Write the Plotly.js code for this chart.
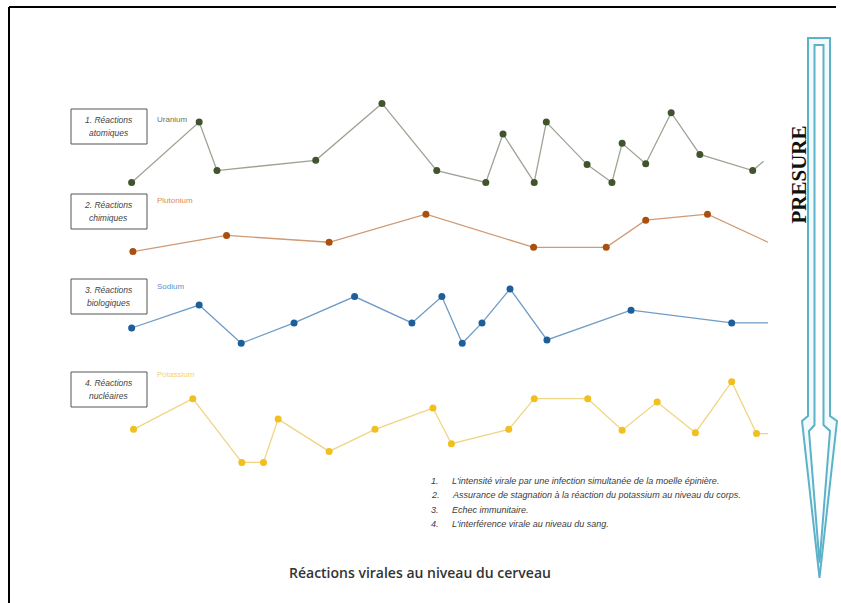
<!DOCTYPE html>
<html>
<head>
<meta charset="utf-8">
<script src="https://cdn.plot.ly/plotly-3.0.1.min.js"></script>
<style>html,body{margin:0;padding:0;background:#fff;}#chart{width:841px;height:603px;}</style>
</head>
<body>
<div id="chart"></div>
<script>
// ---- data (x: relative position 0-100, y: level 0-10 within each band) ----
const seriesNames = ["Uranium", "Plutonium", "Sodium", "Potassium"];
const boxLabels = [["1. Réactions", "atomiques"], ["2. Réactions", "chimiques"], ["3. Réactions", "biologiques"], ["4. Réactions", "nucléaires"]];

const xUranium = [0.1, 10.7, 13.5, 29.0, 39.4, 48.0, 55.7, 58.4, 63.3, 65.2, 71.6, 75.5, 77.1, 80.8, 84.8, 89.3, 97.6, 99.3];
const yUranium = [0.3, 7.4, 1.7, 2.9, 9.6, 1.7, 0.3, 6.0, 0.3, 7.4, 2.4, 0.3, 4.9, 2.5, 8.5, 3.6, 1.7, 2.8];

const xPlutonium = [0.3, 15.0, 31.1, 46.3, 63.2, 74.6, 80.8, 90.5, 100];
const yPlutonium = [0.4, 2.3, 1.5, 4.8, 0.9, 0.9, 4.1, 4.8, 1.5];

const xSodium = [0.1, 10.7, 17.3, 25.6, 35.1, 44.1, 48.8, 52.0, 55.1, 59.5, 65.3, 78.5, 94.3, 100];
const ySodium = [2.0, 4.7, 0.2, 2.6, 5.7, 2.6, 5.7, 0.2, 2.6, 6.6, 0.6, 4.1, 2.6, 2.6];

const xPotassium = [0.4, 9.7, 17.4, 20.8, 23.1, 31.1, 38.3, 47.4, 50.3, 59.3, 63.3, 71.7, 77.1, 82.6, 88.6, 94.3, 98.2, 100];
const yPotassium = [4.2, 7.8, 0.3, 0.3, 5.4, 1.6, 4.2, 6.7, 2.5, 4.2, 7.8, 7.8, 4.1, 7.4, 3.8, 9.8, 3.7, 3.7];

const notes = [
  "L'intensité virale par une infection simultanée de la moelle épinière.",
  "Assurance de stagnation à la réaction du potassium au niveau du corps.",
  "Echec immunitaire.",
  "L'interférence virale au niveau du sang."
];
const chartTitle = "Réactions virales au niveau du cerveau";
const arrowLabel = "PRESURE";

// ---- styling / layout ----
const W = 841, H = 603;
const px = x => x / W;
const py = y => 1 - y / H;

const xs = [xUranium, xPlutonium, xSodium, xPotassium];
const ys = [yUranium, yPlutonium, ySodium, yPotassium];
const lineColors = ["#9ea394", "#cf9a74", "#6f9cc6", "#f0d584"];
const markerColors = ["#40552e", "#a9500f", "#1d5e9b", "#f1bf1e"];
const labelColors = ["#6b7752", "#dc8a55", "#5a93cc", "#f3d36c"];
const bandBottoms = [185, 255, 345, 465];   // pixel bottom of each band
const labelY = [120, 201, 287, 375];
const boxTop = [109, 194, 279, 372];
const unitPx = 8.5;

const traces = [];
const layout = {
  width: W, height: H,
  margin: {l: 0, r: 0, t: 0, b: 0},
  paper_bgcolor: "#fff", plot_bgcolor: "rgba(0,0,0,0)",
  showlegend: false,
  xaxis: {range: [-2, 102], domain: [px(131 - 2 * 6.37), px(768 + 2 * 6.37)], visible: false, fixedrange: true},
  shapes: [], annotations: []
};

function note(x, y, text, font, xanchor) {
  layout.annotations.push({xref: "paper", yref: "paper", x: px(x), y: py(y),
    xanchor: xanchor || "center", yanchor: "middle", text: text, showarrow: false,
    align: "center", font: font});
}

for (let i = 0; i < 4; i++) {
  const ax = i === 0 ? "y" : "y" + (i + 1);
  const axName = i === 0 ? "yaxis" : "yaxis" + (i + 1);
  const B = bandBottoms[i];
  layout[axName] = {
    range: [-1, 11],
    domain: [py(B + unitPx), py(B - 11 * unitPx)],
    visible: false, fixedrange: true
  };
  traces.push({
    x: xs[i], y: ys[i], yaxis: ax, type: "scatter", mode: "lines",
    line: {color: lineColors[i], width: 1.3}, hoverinfo: "skip", cliponaxis: false
  });
  traces.push({
    x: xs[i].slice(0, -1), y: ys[i].slice(0, -1), yaxis: ax, type: "scatter", mode: "markers",
    marker: {color: markerColors[i], size: 7, line: {width: 0}}, hoverinfo: "skip", cliponaxis: false
  });
  // label box
  layout.shapes.push({type: "rect", xref: "paper", yref: "paper",
    x0: px(71), x1: px(147), y0: py(boxTop[i]), y1: py(boxTop[i] + 35),
    line: {color: "#555", width: 1}, fillcolor: "rgba(0,0,0,0)"});
  const bf = {family: "Liberation Sans", size: 8.5, color: "#444"};
  note(108.5, boxTop[i] + 11, "<i>" + boxLabels[i][0] + "</i>", bf);
  note(108.5, boxTop[i] + 24, "<i>" + boxLabels[i][1] + "</i>", bf);
  note(155, labelY[i], seriesNames[i], {family: "Liberation Sans", size: 8, color: labelColors[i]}, "left");
}

// notes
for (let k = 0; k < notes.length; k++) {
  const yy = 481 + k * 14.3;
  const nf = {family: "Liberation Sans", size: 9, color: "#3a3a3a"};
  note(429, yy, "<i>" + (k + 1) + ".</i>", nf, "left");
  note(450, yy, "<i>" + notes[k] + "</i>", nf, "left");
}

// title
note(420, 572, chartTitle, {family: "Open Sans", size: 14, color: "#333", weight: 600});

// PRESURE label
layout.annotations.push({xref: "paper", yref: "paper", x: px(798.5), y: py(175),
  xanchor: "center", yanchor: "middle",
  text: "<b>" + arrowLabel + "</b>", textangle: -90, showarrow: false,
  font: {family: "Liberation Serif", size: 21, color: "#111"}});

// arrow outlines
function pathOf(pts) {
  return "M " + pts.map(p => px(p[0]).toFixed(5) + "," + py(p[1]).toFixed(5)).join(" L ") + " Z";
}
const outerArrow = [[808, 38], [830, 38], [830, 416], [837, 421], [819.5, 578], [802, 421], [808, 416]];
const innerArrow = [[814.5, 45], [823.5, 45], [823.5, 425], [830, 431], [819.5, 563], [809, 431], [814.5, 425]];
layout.shapes.push({type: "path", xref: "paper", yref: "paper", path: pathOf(outerArrow),
  line: {color: "#5cb2c9", width: 2}, fillcolor: "rgba(230,245,250,0.5)"});
layout.shapes.push({type: "path", xref: "paper", yref: "paper", path: pathOf(innerArrow),
  line: {color: "#5cb2c9", width: 2}, fillcolor: "#fff"});

// frame (top and left)
layout.shapes.push({type: "line", xref: "paper", yref: "paper", x0: px(9), x1: px(836), y0: py(7), y1: py(7), line: {color: "#000", width: 2}});
layout.shapes.push({type: "line", xref: "paper", yref: "paper", x0: px(9), x1: px(9), y0: py(7), y1: py(603), line: {color: "#000", width: 2}});

Plotly.newPlot("chart", traces, layout, {displayModeBar: false, staticPlot: true});
</script>
</body>
</html>
